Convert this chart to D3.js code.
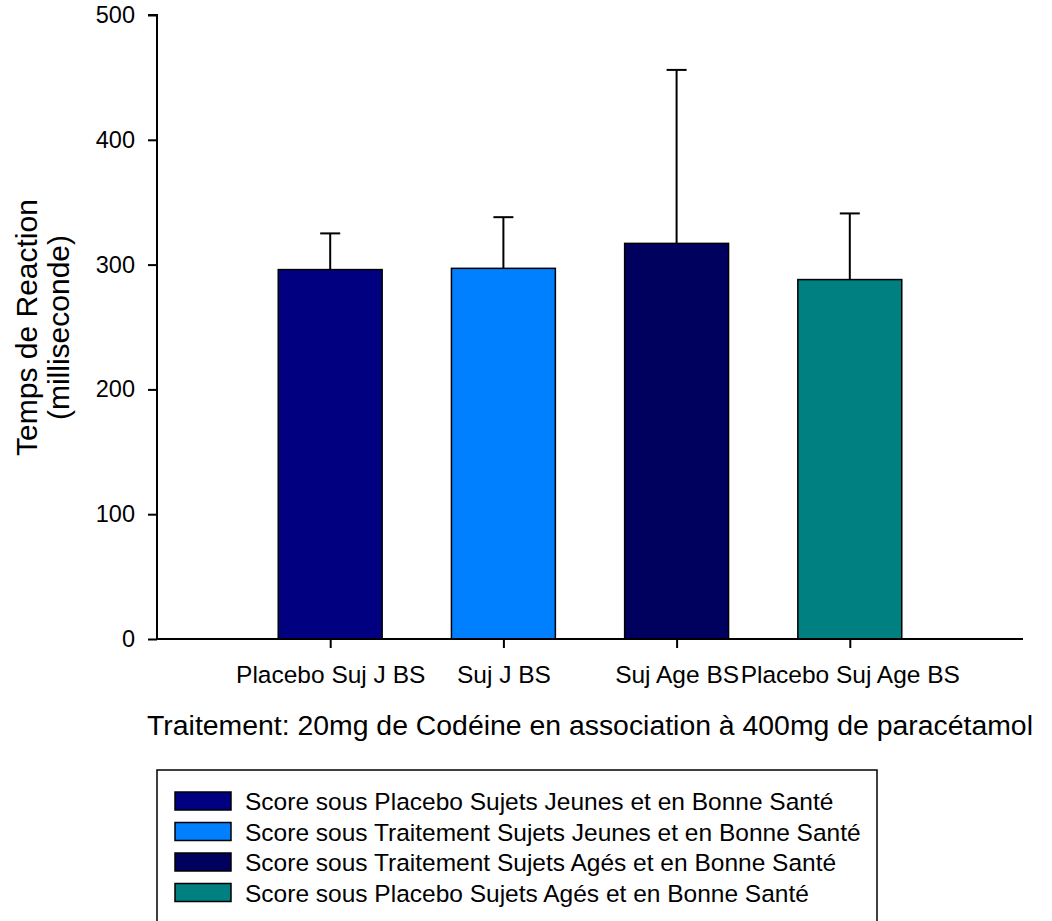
<!DOCTYPE html>
<html><head><meta charset="utf-8">
<script src="https://cdn.jsdelivr.net/npm/d3@7"></script>
<style>body{margin:0;background:#fff;} svg{display:block;font-family:"Liberation Sans",Arial,sans-serif;}</style>
</head><body>
<svg id="c" width="1052" height="921"></svg>
<script>
const categories = ["Placebo Suj J BS", "Suj J BS", "Suj Age BS", "Placebo Suj Age BS"];
const means = [296, 297, 317, 288];
const errors = [29, 41, 139, 53];
const colors = ["#000080", "#0080ff", "#00005e", "#008080"];
const legendLabels = [
  "Score sous Placebo Sujets Jeunes et en Bonne Santé",
  "Score sous Traitement Sujets Jeunes et en Bonne Santé",
  "Score sous Traitement Sujets Agés et en Bonne Santé",
  "Score sous Placebo Sujets Agés et en Bonne Santé"
];
const yTicks = [0, 100, 200, 300, 400, 500];

const svg = d3.select("#c");
const x0 = 157, x1 = 1023, yTop = 15, yBot = 639;
const x = d3.scaleLinear().domain([0, 5]).range([x0, x1]);
const y = d3.scaleLinear().domain([0, 500]).range([yBot, yTop]);
const pos = categories.map((c, i) => i + 1);
const bw = x(0.6) - x(0);
const FF = "Liberation Sans, Arial, sans-serif";

// error bars (behind bars)
const eg = svg.append("g").attr("stroke", "#000").attr("stroke-width", 2);
categories.forEach((c, i) => {
  const cx = x(pos[i]);
  eg.append("line").attr("x1", cx).attr("x2", cx).attr("y1", y(means[i])).attr("y2", y(means[i] + errors[i]));
  eg.append("line").attr("x1", cx - 10).attr("x2", cx + 10).attr("y1", y(means[i] + errors[i])).attr("y2", y(means[i] + errors[i]));
});

svg.append("g").selectAll("rect").data(categories).join("rect")
  .attr("x", (d, i) => x(pos[i]) - bw / 2)
  .attr("y", (d, i) => y(means[i]))
  .attr("width", bw)
  .attr("height", (d, i) => y(0) - y(means[i]))
  .attr("fill", (d, i) => colors[i])
  .attr("stroke", "#000").attr("stroke-width", 1.5);

// y axis
const ya = svg.append("g").attr("transform", `translate(${x0},0)`)
  .call(d3.axisLeft(y).tickValues(yTicks).tickSize(9).tickPadding(13).tickFormat(d3.format("d")));
ya.select(".domain").attr("stroke-width", 2).attr("d", `M-9,${yTop}H0V${yBot}`);
ya.selectAll(".tick line").attr("stroke-width", 2);
ya.selectAll("text").attr("font-size", 23.5).attr("font-family", FF).attr("fill", "#000");

// x axis
const xa = svg.append("g").attr("transform", `translate(0,${yBot})`)
  .call(d3.axisBottom(x).tickValues(pos).tickSize(9).tickPadding(18).tickFormat((d, i) => categories[i]));
xa.select(".domain").attr("stroke-width", 2).attr("d", `M${x0},0H${x1}`);
xa.selectAll(".tick line").attr("stroke-width", 2);
xa.selectAll("text").attr("font-size", 24.5).attr("font-family", FF).attr("fill", "#000");

// axis titles
svg.append("text").attr("x", 590).attr("y", 735).attr("text-anchor", "middle")
  .attr("font-size", 28.4).text("Traitement: 20mg de Codéine en association à 400mg de paracétamol");
const yt = svg.append("text").attr("transform", "translate(0,327.5) rotate(-90)").attr("text-anchor", "middle").attr("font-size", 30);
yt.append("tspan").attr("x", 0).attr("y", 37).text("Temps de Reaction");
yt.append("tspan").attr("x", 0).attr("y", 69).text("(milliseconde)");

// legend
svg.append("rect").attr("x", 157).attr("y", 770).attr("width", 720).attr("height", 170)
  .attr("fill", "none").attr("stroke", "#000").attr("stroke-width", 1.5);
const lg = svg.append("g").selectAll("g").data(legendLabels).join("g")
  .attr("transform", (d, i) => `translate(175,${792 + i * 30.5})`);
lg.append("rect").attr("width", 56).attr("height", 18).attr("fill", (d, i) => colors[i]).attr("stroke", "#000").attr("stroke-width", 1.5);
lg.append("text").attr("x", 70).attr("y", 18).attr("font-size", 24.5).text(d => d);
</script>
</body></html>
